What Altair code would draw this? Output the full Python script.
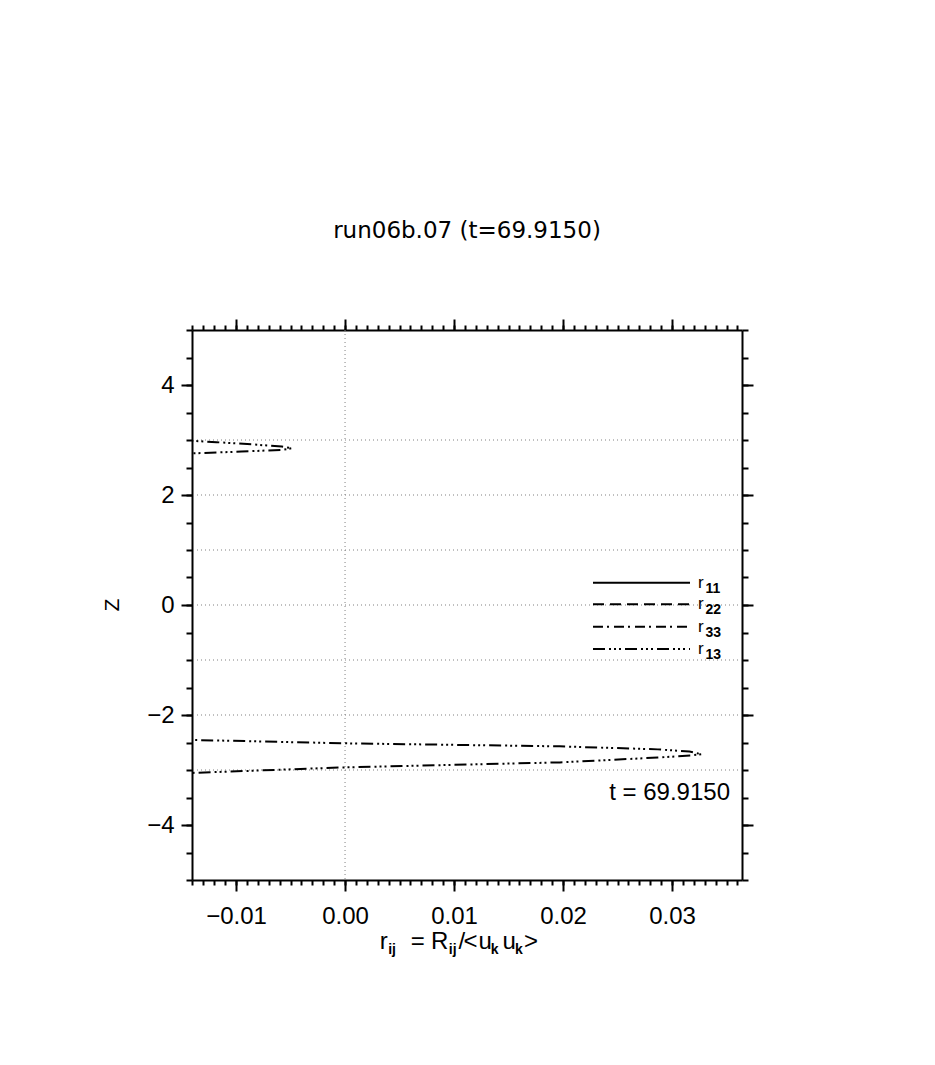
import altair as alt
import pandas as pd
import numpy as np

FONT = "Liberation Sans"
TFONT = "DejaVu Sans"

# ---- data -----------------------------------------------------------------
# r13 profile, visible lobes only (the rest of the curve lies off the left edge)
r13_upper_z = [3.03, 2.985, 2.96, 2.92, 2.88, 2.85, 2.82, 2.79, 2.757, 2.73]
r13_upper_v = [-0.0185, -0.0140, -0.0118, -0.0085, -0.0058, -0.0049, -0.0058, -0.0095, -0.0140, -0.0175]
r13_lower_z = [-2.40, -2.453, -2.515, -2.57, -2.625, -2.665, -2.713, -2.737, -2.773, -2.862, -2.952, -3.054, -3.10]
r13_lower_v = [-0.022, -0.0141, 0.0, 0.0197, 0.0287, 0.0316, 0.0327, 0.0317, 0.0287, 0.0197, 0.0, -0.0141, -0.022]

legend_names = ["11", "22", "33", "13"]
x_major = [-0.01, 0.0, 0.01, 0.02, 0.03]
y_major = [-4, -2, 0, 2, 4]
grid_z = [-3, -2, -1, 0, 1, 2, 3]
grid_x = [0.0]
title_text = "run06b.07 (t=69.9150)"
time_text = "t = 69.9150"

XDOM = [-0.01404, 0.03642]
YDOM = [-5, 5]
x_minor = [round(v, 4) for v in np.arange(-0.014, 0.0365, 0.001)]
y_minor = [round(v, 2) for v in np.arange(-5.0, 5.01, 0.5)]

rows = []
for i, (z, v) in enumerate(zip(r13_upper_z, r13_upper_v)):
    rows.append({"seg": "upper", "i": i, "z": z, "r": v})
for i, (z, v) in enumerate(zip(r13_lower_z, r13_lower_v)):
    rows.append({"seg": "lower", "i": i, "z": z, "r": v})
df = pd.DataFrame(rows)

xs = alt.Scale(domain=XDOM, nice=False, zero=False)
ys = alt.Scale(domain=YDOM, nice=False, zero=False)

common = dict(grid=False, title=None, tickColor="black", tickWidth=2,
              domainColor="black", domainWidth=2, labelFont=FONT,
              labelFontSize=24, labelColor="black")


def axis_layer(xaxis, yaxis):
    return alt.Chart(df).mark_point(opacity=0).encode(
        x=alt.X("r:Q", scale=xs, axis=xaxis),
        y=alt.Y("z:Q", scale=ys, axis=yaxis),
    )


layA = axis_layer(
    alt.Axis(orient="bottom", values=x_major, format=".2f", tickSize=11,
             labelPadding=13, labelFlush=False, **common),
    alt.Axis(orient="left", values=y_major, format="d", tickSize=11,
             labelPadding=7, **common),
)
layB = axis_layer(
    alt.Axis(orient="bottom", values=x_minor, tickSize=5, labels=False,
             domain=False, **common),
    alt.Axis(orient="left", values=y_minor, tickSize=6, labels=False,
             domain=False, **common),
)
layC = axis_layer(
    alt.Axis(orient="top", values=x_major, tickSize=11, labels=False, **common),
    alt.Axis(orient="right", values=y_major, tickSize=11, labels=False, **common),
)
layD = axis_layer(
    alt.Axis(orient="top", values=x_minor, tickSize=5, labels=False,
             domain=False, **common),
    alt.Axis(orient="right", values=y_minor, tickSize=6, labels=False,
             domain=False, **common),
)

gridh = alt.Chart(pd.DataFrame({"z": grid_z})).mark_rule(
    color="#808080", strokeDash=[1, 3], strokeWidth=1
).encode(y=alt.Y("z:Q", scale=ys, axis=None))
gridv = alt.Chart(pd.DataFrame({"r": grid_x})).mark_rule(
    color="#808080", strokeDash=[1, 3], strokeWidth=1
).encode(x=alt.X("r:Q", scale=xs, axis=None))

DASH13 = [12, 4, 2, 3, 2, 3, 2, 4]
line = alt.Chart(df).mark_line(
    color="black", strokeWidth=2, strokeDash=DASH13, clip=True
).encode(
    x=alt.X("r:Q", scale=xs, axis=None),
    y=alt.Y("z:Q", scale=ys, axis=None),
    detail="seg:N",
    order="i:Q",
)


def txt(s, x, y, size, align="left", baseline="alphabetic", angle=0,
        weight="normal", font=FONT):
    return alt.Chart(alt.Data(values=[{}])).mark_text(
        font=font, fontSize=size, align=align, baseline=baseline,
        angle=angle, fontWeight=weight, color="black"
    ).encode(x=alt.value(x), y=alt.value(y), text=alt.value(s))


dashes = [[1, 0], [11, 6], [10, 4, 2, 5], DASH13]
leg_y = [252.7, 274.3, 296.7, 319.0]
legend_layers = []
for name, dsh, ly in zip(legend_names, dashes, leg_y):
    legend_layers.append(
        alt.Chart(alt.Data(values=[{}])).mark_rule(
            color="black", strokeWidth=2, strokeDash=dsh
        ).encode(x=alt.value(401), x2=alt.value(498), y=alt.value(ly))
    )
    legend_layers.append(txt("r", 506, ly + 5, 17))
    legend_layers.append(txt(name, 513.5, ly + 10, 14, weight="bold"))

SUB = 14
texts = [
    txt(title_text, 275, -92.5, 23, align="center", font=TFONT),
    txt(time_text, 538, 470, 24, align="right"),
    txt("Z", -79, 275, 21, align="center", baseline="middle", angle=270),
    # x-axis title  r_ij = R_ij/<u_k u_k>
    txt("r", 187.7, 619, 24),
    txt("ij", 196.2, 624, SUB, weight="bold"),
    txt("=", 218.7, 619, 24),
    txt("R", 239.0, 619, 24),
    txt("ij", 256.8, 624, SUB, weight="bold"),
    txt("/", 266.5, 619, 24),
    txt("<", 271.5, 619, 24),
    txt("u", 286.5, 619, 24),
    txt("k", 298.8, 624, SUB, weight="bold"),
    txt("u", 310.5, 619, 24),
    txt("k", 323.0, 624, SUB, weight="bold"),
    txt(">", 332.0, 619, 24),
]

chart = alt.layer(
    gridh, gridv, line, layA, layB, layC, layD, *legend_layers, *texts
).resolve_scale(x="shared", y="shared").resolve_axis(
    x="independent", y="independent"
).properties(
    width=550, height=550,
    autosize=alt.AutoSizeParams(type="none"),
    padding={"left": 184, "top": 322, "right": 185, "bottom": 177},
).configure_view(strokeWidth=0)

chart.save("out.html", embed_options={"renderer": "svg", "actions": False})
